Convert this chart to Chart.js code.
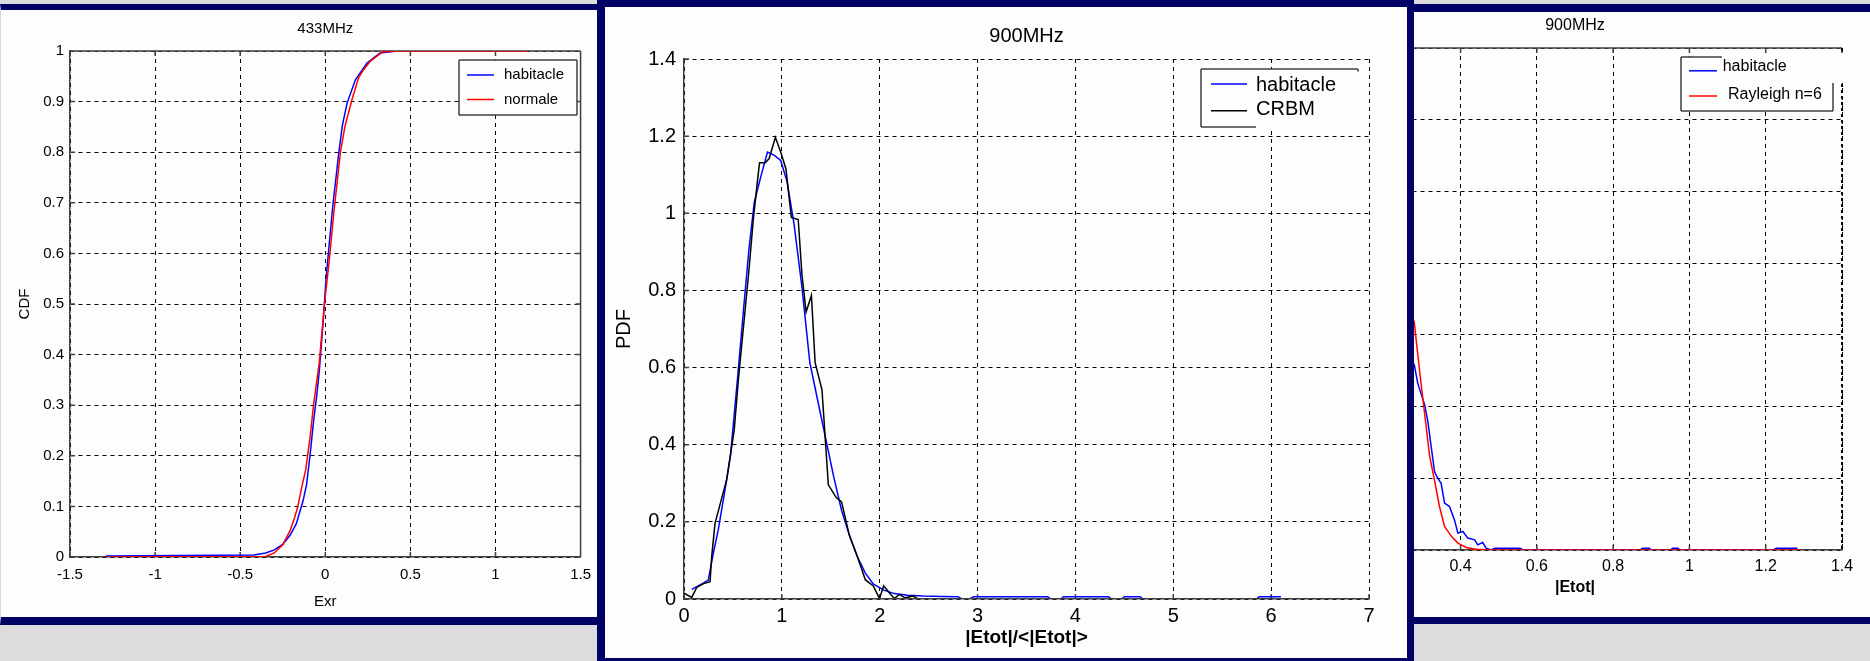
<!DOCTYPE html>
<html lang="fr">
<head>
<meta charset="utf-8">
<title>Distributions du champ dans l'habitacle</title>
<script src="https://cdn.jsdelivr.net/npm/chart.js@4.4.1/dist/chart.umd.min.js"></script>
<style>
    html, body { margin: 0; padding: 0; }
    body { position: relative; width: 1870px; height: 661px; overflow: hidden; background: #dcdcdc; }
    .cadre { position: absolute; box-sizing: border-box; background: #fdfdfd; border: 0 solid #020266; }
    #cadre433 { left: 0; top: 4px; width: 620px; height: 621px; border-top-width: 6px; border-bottom-width: 8px; border-left: 1px solid #d4d4ee; z-index: 1; }
    #cadreEtot { left: 1300px; top: 4px; width: 570px; height: 620px; border-top-width: 8px; border-bottom-width: 7px; z-index: 3; }
    #cadre900 { left: 597px; top: 0; width: 817px; height: 666px; border-width: 7px 7px 8px 8px; z-index: 5; }
    canvas { position: absolute; }
    #cdf433 { left: 0; top: 10px; z-index: 2; }
    #pdfEtot { left: 1220px; top: 12px; z-index: 4; }
    #pdf900 { left: 605px; top: 7px; z-index: 6; }
</style>
</head>
<body>
<div class="cadre" id="cadre433"></div>
<canvas id="cdf433" width="600" height="607"></canvas>
<div class="cadre" id="cadreEtot"></div>
<canvas id="pdfEtot" width="650" height="605"></canvas>
<div class="cadre" id="cadre900"></div>
<canvas id="pdf900" width="802" height="651"></canvas>

<script>
// 433 MHz : fonction de répartition de Exr
const exrTicks = [-1.5, -1, -0.5, 0, 0.5, 1, 1.5];
const cdfTicks = [0, 0.1, 0.2, 0.3, 0.4, 0.5, 0.6, 0.7, 0.8, 0.9, 1];
const habitacle433X = [-1.29, -0.42, -0.35, -0.30, -0.25, -0.207, -0.17, -0.15, -0.13, -0.11, -0.09, -0.069, -0.05, -0.035, -0.012, 0.005, 0.023, 0.046, 0.08, 0.10, 0.128, 0.177, 0.245, 0.322, 0.40];
const habitacle433Y = [0.002, 0.004, 0.008, 0.014, 0.025, 0.043, 0.066, 0.089, 0.112, 0.143, 0.20, 0.268, 0.32, 0.368, 0.468, 0.552, 0.618, 0.70, 0.80, 0.852, 0.897, 0.943, 0.976, 0.996, 0.999];
const normale433X = [-1.29, -0.35, -0.30, -0.25, -0.207, -0.18, -0.161, -0.14, -0.115, -0.09, -0.069, -0.035, -0.005, 0.023, 0.05, 0.089, 0.115, 0.157, 0.196, 0.225, 0.265, 0.334, 0.40, 1.19];
const normale433Y = [0, 0.001, 0.008, 0.024, 0.052, 0.078, 0.10, 0.135, 0.1725, 0.235, 0.30, 0.385, 0.50, 0.585, 0.68, 0.80, 0.85, 0.904, 0.9475, 0.963, 0.98, 0.9975, 1, 1];

// 900 MHz : densité de |Etot|/<|Etot|>
const etotNormTicks = [0, 1, 2, 3, 4, 5, 6, 7];
const pdfTicks = [0, 0.2, 0.4, 0.6, 0.8, 1, 1.2, 1.4];
const habitacle900X = [0.079, 0.197, 0.248, 0.3, 0.35, 0.419, 0.475, 0.546, 0.61, 0.664, 0.718, 0.783, 0.853, 0.924, 0.988, 1.053, 1.124, 1.205, 1.286, 1.367, 1.448, 1.529, 1.61, 1.69, 1.771, 1.853, 1.934, 2.042, 2.15, 2.285, 2.447, 2.636, 2.8, 2.84, 2.92, 2.96, 3.716, 3.75, 3.85, 3.878, 4.337, 4.37, 4.47, 4.5, 4.66, 4.69, 5.85, 5.877, 6.1];
const habitacle900Y = [0.025, 0.041, 0.049, 0.119, 0.179, 0.283, 0.372, 0.569, 0.755, 0.907, 1.028, 1.093, 1.159, 1.15, 1.137, 1.082, 0.973, 0.809, 0.613, 0.514, 0.416, 0.318, 0.23, 0.165, 0.11, 0.067, 0.039, 0.023, 0.014, 0.0098, 0.0076, 0.0066, 0.006, 0, 0, 0.006, 0.006, 0, 0, 0.006, 0.006, 0, 0, 0.006, 0.006, 0, 0, 0.006, 0.006];
const crbm900X = [0, 0.079, 0.13, 0.2, 0.266, 0.283, 0.317, 0.385, 0.436, 0.513, 0.556, 0.61, 0.664, 0.708, 0.745, 0.772, 0.83, 0.87, 0.934, 0.988, 1.042, 1.097, 1.167, 1.205, 1.248, 1.302, 1.34, 1.41, 1.475, 1.556, 1.61, 1.69, 1.771, 1.853, 1.934, 1.998, 2.04, 2.096, 2.15, 2.2, 2.26, 2.34, 2.39];
const crbm900Y = [0.015, 0.004, 0.03, 0.04, 0.045, 0.11, 0.196, 0.261, 0.309, 0.438, 0.569, 0.711, 0.853, 0.984, 1.071, 1.131, 1.131, 1.142, 1.197, 1.159, 1.115, 0.989, 0.984, 0.842, 0.744, 0.787, 0.613, 0.542, 0.296, 0.263, 0.252, 0.165, 0.11, 0.05, 0.034, 0.001, 0.034, 0.017, 0.001, 0.012, 0.003, 0.008, 0];

// 900 MHz : densité de |Etot|
const etotTicks = [0, 0.2, 0.4, 0.6, 0.8, 1, 1.2, 1.4];
const pdfEtotTicks = [0, 1, 2, 3, 4, 5, 6, 7];
const habitacleEtotX = [0.278, 0.288, 0.297, 0.3056, 0.3143, 0.323, 0.332, 0.3405, 0.349, 0.358, 0.371, 0.384, 0.393, 0.406, 0.419, 0.437, 0.445, 0.458, 0.467, 0.48, 0.49, 0.555, 0.565, 0.87, 0.877, 0.895, 0.9, 0.95, 0.956, 0.97, 0.975, 1.22, 1.228, 1.283];
const habitacleEtotY = [2.6, 2.32, 2.17, 2.03, 1.79, 1.44, 1.086, 1.0, 0.93, 0.653, 0.606, 0.42, 0.235, 0.258, 0.166, 0.142, 0.072, 0.104, 0.026, 0, 0.025, 0.025, 0, 0, 0.025, 0.025, 0, 0, 0.025, 0.025, 0, 0, 0.025, 0.025];
const rayleighEtotX = [0.278, 0.2925, 0.3056, 0.3187, 0.332, 0.345, 0.358, 0.376, 0.393, 0.415, 0.441, 0.47, 0.86, 1.29];
const rayleighEtotY = [3.2, 2.5, 1.91, 1.32, 0.96, 0.6, 0.33, 0.19, 0.096, 0.035, 0.012, 0.003, 0, 0];

const POLICE = "'Liberation Sans', Arial, Helvetica, sans-serif";
Chart.defaults.font.family = POLICE;
Chart.defaults.color = '#000';

function points(xs, ys) {
    return xs.map((x, i) => ({ x: x, y: ys[i] }));
}

function courbe(label, xs, ys, couleur, ordre) {
    return {
        label: label,
        data: points(xs, ys),
        borderColor: couleur,
        backgroundColor: couleur,
        borderWidth: 1.5,
        pointRadius: 0,
        showLine: true,
        tension: 0,
        order: ordre
    };
}

// graduations imposées, une ligne de grille par valeur
function graduations(valeurs) {
    return function(scale) {
        scale.ticks = valeurs.map(v => ({ value: v }));
    };
}

function axe(opts) {
    return {
        type: 'linear',
        min: opts.min,
        max: opts.max,
        afterBuildTicks: graduations(opts.ticks),
        afterFit: function(scale) {
            if (scale.isHorizontal()) scale.height = opts.taille;
            else scale.width = opts.taille;
        },
        grid: { color: '#000', lineWidth: 1, drawTicks: false },
        border: { color: '#404040', width: 1.5, dash: [4, 4], z: opts.bordDessus ? 1 : 0 },
        ticks: {
            padding: opts.ecart,
            autoSkip: false,
            maxRotation: 0,
            color: '#000',
            font: { size: opts.police },
            callback: function(value) {
                return String(value);
            }
        },
        title: opts.titre ? {
            display: true,
            text: opts.titre,
            color: '#000',
            font: { size: opts.titrePolice, weight: opts.titreGras ? 'bold' : 'normal' },
            padding: opts.titrePadding
        } : { display: false }
    };
}

// Cadre façon MATLAB : côtés haut/droite, graduations internes et légende encadrée
const cadreMatlab = {
    id: 'cadreMatlab',
    beforeDatasetsDraw(chart, args, opts) {
        const { ctx, chartArea: a } = chart;
        const sx = chart.scales.x;
        const sy = chart.scales.y;
        ctx.save();
        ctx.strokeStyle = '#404040';
        ctx.lineWidth = 1.5;
        ctx.beginPath();
        sx.ticks.forEach(t => {
            const px = sx.getPixelForValue(t.value);
            ctx.moveTo(px, a.bottom);
            ctx.lineTo(px, a.bottom - 5);
            if (opts.haut) {
                ctx.moveTo(px, a.top);
                ctx.lineTo(px, a.top + 5);
            }
        });
        sy.ticks.forEach(t => {
            const py = sy.getPixelForValue(t.value);
            ctx.moveTo(a.left, py);
            ctx.lineTo(a.left + 5, py);
            if (opts.droite === 'plein') {
                ctx.moveTo(a.right, py);
                ctx.lineTo(a.right - 5, py);
            }
        });
        if (opts.haut) {
            ctx.moveTo(a.left, a.top);
            ctx.lineTo(a.right, a.top);
        }
        if (opts.droite === 'plein') {
            ctx.moveTo(a.right, a.top);
            ctx.lineTo(a.right, a.bottom);
        }
        ctx.stroke();
        if (opts.droite === 'tirets') {
            ctx.strokeStyle = '#000';
            ctx.lineWidth = 2;
            ctx.setLineDash([3, 3]);
            ctx.beginPath();
            ctx.moveTo(a.right, a.top);
            ctx.lineTo(a.right, a.bottom);
            ctx.stroke();
        }
        ctx.restore();
    },
    afterDatasetsDraw(chart, args, opts) {
        const lg = opts.legende;
        if (!lg) return;
        const ctx = chart.ctx;
        ctx.save();
        ctx.fillStyle = '#fdfdfd';
        lg.fonds.forEach(r => ctx.fillRect(r[0], r[1], r[2] - r[0], r[3] - r[1]));
        ctx.strokeStyle = '#404040';
        ctx.lineWidth = 1.5;
        ctx.beginPath();
        lg.bords.forEach(b => {
            ctx.moveTo(b[0], b[1]);
            ctx.lineTo(b[2], b[3]);
        });
        ctx.stroke();
        ctx.font = lg.police + 'px ' + POLICE;
        ctx.textBaseline = 'middle';
        lg.lignes.forEach(l => {
            const ds = chart.data.datasets[l.serie];
            ctx.strokeStyle = ds.borderColor;
            ctx.beginPath();
            ctx.moveTo(lg.trait[0], l.y);
            ctx.lineTo(lg.trait[1], l.y);
            ctx.stroke();
            ctx.fillStyle = '#000';
            ctx.fillText(ds.label, l.xTexte, l.yTexte);
        });
        ctx.restore();
    }
};

const optionsCommunes = {
    responsive: false,
    animation: false,
    events: []
};

// Graphique 433 MHz (CDF)
new Chart(document.getElementById('cdf433'), {
    type: 'scatter',
    data: {
        datasets: [
            courbe('habitacle', habitacle433X, habitacle433Y, '#0000ff', 1),
            courbe('normale', normale433X, normale433Y, '#ff0000', 0)
        ]
    },
    options: Object.assign({}, optionsCommunes, {
        layout: { padding: { left: 0, top: 0, right: 14, bottom: 0 } },
        scales: {
            x: axe({ min: -1.5, max: 1.5, ticks: exrTicks, taille: 60, ecart: 9, police: 15,
                     titre: 'Exr', titrePolice: 15, titrePadding: { top: 0, bottom: 6 } }),
            y: axe({ min: 0, max: 1, ticks: cdfTicks, taille: 70, ecart: 6, police: 15,
                     titre: 'CDF', titrePolice: 15, titrePadding: { top: 15.5, bottom: 0 } })
        },
        plugins: {
            legend: { display: false },
            tooltip: { enabled: false },
            title: {
                display: true,
                fullSize: false,
                text: '433MHz',
                color: '#000',
                font: { size: 15, weight: 'normal' },
                padding: { top: 10, bottom: 13 }
            },
            cadreMatlab: {
                haut: true,
                droite: 'plein',
                legende: {
                    police: 15,
                    fonds: [[459, 50, 577, 105]],
                    bords: [[459, 50, 577, 50], [577, 50, 577, 105], [577, 105, 459, 105], [459, 105, 459, 50]],
                    trait: [467, 494],
                    lignes: [
                        { serie: 0, y: 65, xTexte: 504, yTexte: 65 },
                        { serie: 1, y: 89.5, xTexte: 504, yTexte: 89.5 }
                    ]
                }
            }
        }
    }),
    plugins: [cadreMatlab]
});

// Graphique 900 MHz, |Etot| (partiellement recouvert)
new Chart(document.getElementById('pdfEtot'), {
    type: 'scatter',
    data: {
        datasets: [
            courbe('habitacle', habitacleEtotX, habitacleEtotY, '#0000ff', 1),
            courbe('Rayleigh n=6', rayleighEtotX, rayleighEtotY, '#ff0000', 0)
        ]
    },
    options: Object.assign({}, optionsCommunes, {
        layout: { padding: { left: 0, top: 0, right: 28, bottom: 0 } },
        scales: {
            x: axe({ min: 0, max: 1.4, ticks: etotTicks, taille: 67, ecart: 7, police: 16,
                     titre: '|Etot|', titrePolice: 16, titreGras: true, titrePadding: { top: 0, bottom: 19.4 } }),
            y: axe({ min: 0, max: 7, ticks: pdfEtotTicks, taille: 88, ecart: 6, police: 16 })
        },
        plugins: {
            legend: { display: false },
            tooltip: { enabled: false },
            title: {
                display: true,
                fullSize: false,
                text: '900MHz',
                color: '#000',
                font: { size: 16, weight: 'normal' },
                padding: { top: 4, bottom: 12.8 }
            },
            cadreMatlab: {
                haut: true,
                droite: 'tirets',
                legende: {
                    police: 16,
                    fonds: [[461, 45, 613, 99], [502, 41, 626, 71]],
                    bords: [[461, 45, 502, 45], [461, 45, 461, 99], [461, 99, 613, 99], [613, 71, 613, 99]],
                    trait: [469, 497],
                    lignes: [
                        { serie: 0, y: 58.8, xTexte: 502.7, yTexte: 54.6 },
                        { serie: 1, y: 84, xTexte: 508, yTexte: 82.9 }
                    ]
                }
            }
        }
    }),
    plugins: [cadreMatlab]
});

// Graphique 900 MHz, |Etot|/<|Etot|> (au premier plan)
new Chart(document.getElementById('pdf900'), {
    type: 'scatter',
    data: {
        datasets: [
            courbe('habitacle', habitacle900X, habitacle900Y, '#0000ff', 1),
            courbe('CRBM', crbm900X, crbm900Y, '#000000', 0)
        ]
    },
    options: Object.assign({}, optionsCommunes, {
        layout: { padding: { left: 0, top: 0, right: 38, bottom: 0 } },
        scales: {
            x: axe({ min: 0, max: 7, ticks: etotNormTicks, taille: 59, ecart: 5, police: 20, bordDessus: true,
                     titre: '|Etot|/<|Etot|>', titrePolice: 19, titreGras: true, titrePadding: { top: 0, bottom: 9 } }),
            y: axe({ min: 0, max: 1.4, ticks: pdfTicks, taille: 79, ecart: 8, police: 20,
                     titre: 'PDF', titrePolice: 20, titrePadding: { top: 7, bottom: 0 } })
        },
        plugins: {
            legend: { display: false },
            tooltip: { enabled: false },
            title: {
                display: true,
                fullSize: false,
                text: '900MHz',
                color: '#000',
                font: { size: 20, weight: 'normal' },
                padding: { top: 17, bottom: 11 }
            },
            cadreMatlab: {
                haut: false,
                droite: false,
                legende: {
                    police: 20,
                    fonds: [[596, 62, 753, 120]],
                    bords: [[596, 62, 753, 62], [753, 62, 753, 64.5], [596, 62, 596, 120], [596, 120, 651, 120]],
                    trait: [606, 642],
                    lignes: [
                        { serie: 0, y: 77, xTexte: 651, yTexte: 78 },
                        { serie: 1, y: 103.7, xTexte: 651, yTexte: 102.3 }
                    ]
                }
            }
        }
    }),
    plugins: [cadreMatlab]
});
</script>
</body>
</html>
